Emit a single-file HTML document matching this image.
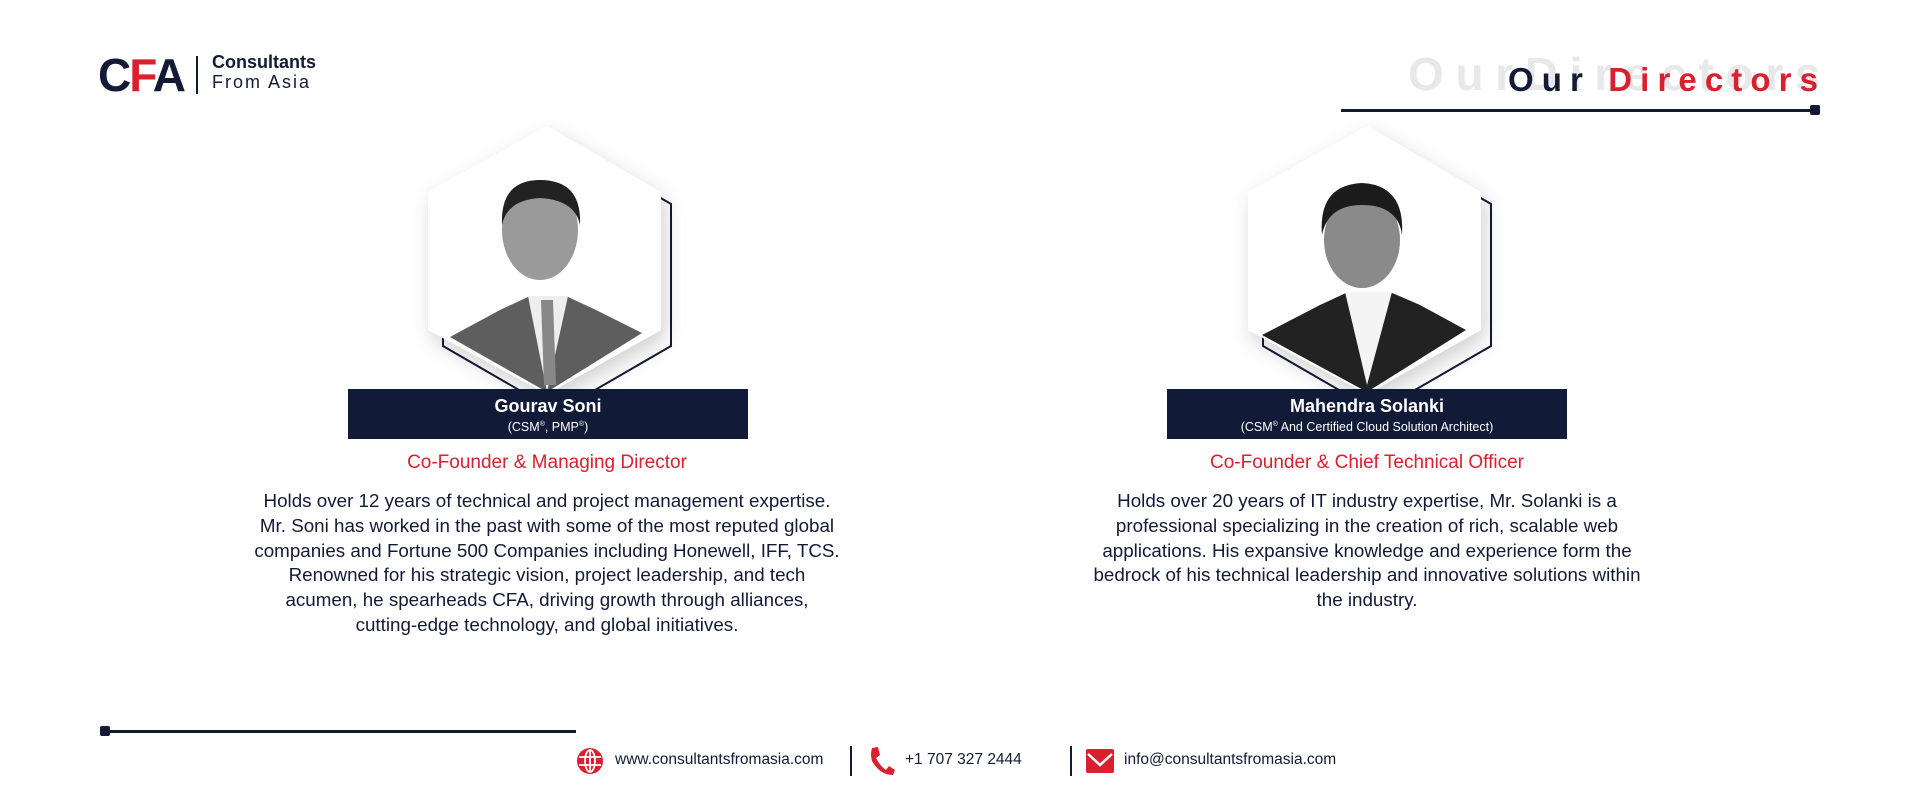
<!DOCTYPE html>
<html><head><meta charset="utf-8"><style>
body{margin:0;width:1920px;height:796px;background:#fff;position:relative;overflow:hidden;font-family:"Liberation Sans",sans-serif;color:#121a36}
.a{position:absolute}
.c{text-align:center;white-space:nowrap}
.bar{background:#111a36;color:#fff;text-align:center}
.nm{font-weight:bold;font-size:18px;line-height:22px;padding-top:6px}
.sub{font-size:12.5px;line-height:16px}
.role{color:#d9202f;font-size:19px}
.desc{font-size:18.8px;line-height:24.8px;color:#121a36}
.foot{font-size:15.5px;top:751px}
</style></head><body>
<div class="a" style="left:98px;top:52px;width:250px;height:45px">
 <span class="a" style="left:0;top:-4px;font-size:46px;font-weight:bold;letter-spacing:-2px;color:#121a36">C<span style="color:#d9202f">F</span>A</span>
 <div class="a" style="left:98px;top:4px;width:1.5px;height:38px;background:#121a36"></div>
 <span class="a" style="left:114px;top:0;font-size:18px;font-weight:bold">Consultants</span>
 <span class="a" style="left:114px;top:20px;font-size:18px;letter-spacing:2px">From Asia</span>
</div>
<div class="a" style="left:1408px;top:47px;font-size:46px;font-weight:bold;letter-spacing:11.7px;color:#e8e8ea">OurDirectors</div>
<div class="a" style="left:1508px;top:61px;font-size:33px;font-weight:bold;letter-spacing:8.1px;color:#121a36">Our <span style="color:#d9202f">Directors</span></div>
<div class="a" style="left:1341px;top:109px;width:475px;height:2.5px;background:#121a36"></div>
<div class="a" style="left:1810px;top:105px;width:10px;height:10px;border-radius:2px;background:#121a36"></div>

<svg class="a" style="left:0;top:0" width="1920" height="796">
 <defs><filter id="sh" x="-30%" y="-30%" width="160%" height="160%"><feDropShadow dx="4" dy="8" stdDeviation="10" flood-color="#000" flood-opacity="0.18"/></filter></defs>
 <g>
  <polygon points="557,138 671,204 671,346 557,412 443,346 443,204" fill="none" stroke="#121a36" stroke-width="2"/>
  <polygon points="547,126 661,192 661,330 547,394 428,330 428,192" fill="#fff" filter="url(#sh)"/>
  <path d="M450,337 L500,310 L530,296 L547,300 L566,296 L596,310 L642,333 L547,392 Z" fill="#5e5e5e"/>
  <path d="M528,296 L547,392 L568,296 Z" fill="#eee"/>
  <path d="M541,300 L553,300 L556,385 L544,385 Z" fill="#888"/>
  <ellipse cx="540" cy="230" rx="38" ry="50" fill="#9a9a9a"/>
  <path d="M502,225 Q500,180 540,180 Q582,180 580,225 Q575,200 540,198 Q507,200 502,225 Z" fill="#222"/>
 </g>
 <g>
  <polygon points="1377,138 1491,204 1491,346 1377,412 1263,346 1263,204" fill="none" stroke="#121a36" stroke-width="2"/>
  <polygon points="1367,126 1481,192 1481,330 1367,394 1248,330 1248,192" fill="#fff" filter="url(#sh)"/>
  <path d="M1262,335 L1320,305 L1348,292 L1367,298 L1390,292 L1420,305 L1466,330 L1367,392 Z" fill="#222"/>
  <path d="M1345,292 L1367,385 L1392,292 Z" fill="#f4f4f4"/>
  <ellipse cx="1362" cy="240" rx="38" ry="48" fill="#8a8a8a"/>
  <path d="M1322,235 Q1318,185 1362,183 Q1405,185 1402,235 Q1398,205 1362,205 Q1328,205 1322,235 Z" fill="#1c1c1c"/>
 </g>
</svg>

<div class="a bar" style="left:348px;top:389px;width:400px;height:50px">
 <div class="nm">Gourav Soni</div><div class="sub">(CSM<sup style="font-size:7px">®</sup>, PMP<sup style="font-size:7px">®</sup>)</div></div>
<div class="a c role" style="left:347px;width:400px;top:452px">Co-Founder &amp; Managing Director</div>
<div class="a c desc" style="left:247px;width:600px;top:489px">Holds over 12 years of technical and project management expertise.<br>Mr. Soni has worked in the past with some of the most reputed global<br>companies and Fortune 500 Companies including Honewell, IFF, TCS.<br>Renowned for his strategic vision, project leadership, and tech<br>acumen, he spearheads CFA, driving growth through alliances,<br>cutting-edge technology, and global initiatives.</div>

<div class="a bar" style="left:1167px;top:389px;width:400px;height:50px">
 <div class="nm">Mahendra Solanki</div><div class="sub">(CSM<sup style="font-size:7px">®</sup> And Certified Cloud Solution Architect)</div></div>
<div class="a c role" style="left:1167px;width:400px;top:452px">Co-Founder &amp; Chief Technical Officer</div>
<div class="a c desc" style="left:1067px;width:600px;top:489px">Holds over 20 years of IT industry expertise, Mr. Solanki is a<br>professional specializing in the creation of rich, scalable web<br>applications. His expansive knowledge and experience form the<br>bedrock of his technical leadership and innovative solutions within<br>the industry.</div>

<div class="a" style="left:100px;top:730px;width:476px;height:2.5px;background:#121a36"></div>
<div class="a" style="left:100px;top:726px;width:10px;height:10px;border-radius:2px;background:#121a36"></div>

<svg class="a" style="left:576px;top:747px" width="28" height="28"><circle cx="14" cy="14" r="13" fill="#d9202f"/><g stroke="#fff" stroke-width="1.8" fill="none"><ellipse cx="14" cy="14" rx="5" ry="11"/><line x1="14" y1="3" x2="14" y2="25"/><line x1="3" y1="10" x2="25" y2="10"/><line x1="3" y1="18" x2="25" y2="18"/></g></svg>
<div class="a foot" style="left:615px">www.consultantsfromasia.com</div>
<div class="a" style="left:850px;top:746px;width:1.5px;height:30px;background:#121a36"></div>
<svg class="a" style="left:868px;top:746px" width="28" height="30"><path d="M4,2 L10,1 L12,9 L8,12 Q12,20 18,24 L21,20 L27,24 L25,29 Q12,29 4,15 Q2,8 4,2 Z" fill="#d9202f"/></svg>
<div class="a foot" style="left:905px">+1 707 327 2444</div>
<div class="a" style="left:1070px;top:746px;width:1.5px;height:30px;background:#121a36"></div>
<svg class="a" style="left:1086px;top:749px" width="28" height="24"><rect x="0" y="0" width="28" height="24" rx="2" fill="#d9202f"/><path d="M2,5 L14,16 L26,5" stroke="#fff" stroke-width="2.5" fill="none"/></svg>
<div class="a foot" style="left:1124px">info@consultantsfromasia.com</div>
</body></html>
